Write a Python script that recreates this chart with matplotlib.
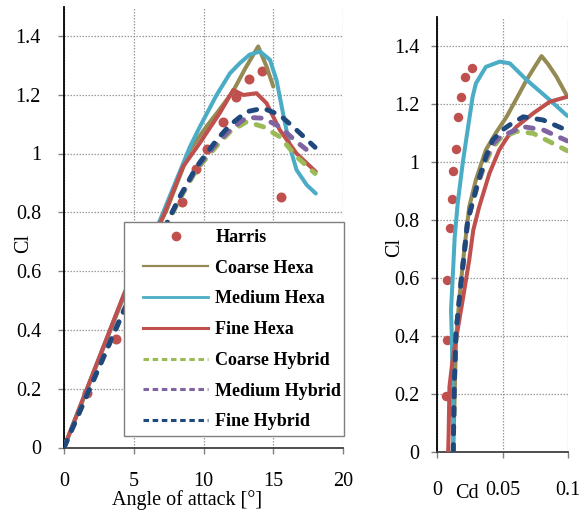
import matplotlib
matplotlib.use("Agg")
import matplotlib.pyplot as plt
from matplotlib.lines import Line2D
from matplotlib.patches import Rectangle
from matplotlib.ticker import FuncFormatter

plt.rcParams['font.family'] = ['Liberation Serif', 'DejaVu Serif']

# ---------------- data: Cl vs angle of attack ----------------
harris_alpha = [1.67, 3.7, 8.45, 9.45, 10.25, 11.4, 12.3, 13.25, 14.2, 15.55]
harris_cl = [0.184, 0.368, 0.835, 0.947, 1.015, 1.108, 1.193, 1.254, 1.281, 0.852]

coarse_hexa_alpha = [0, 4.3, 7.35, 9.03, 10.2, 11.0, 12.1, 13.0, 13.92, 14.52, 15.0]
coarse_hexa_cl = [0, 0.515, 0.807, 1.012, 1.091, 1.14, 1.21, 1.29, 1.364, 1.296, 1.228]

medium_hexa_alpha = [0, 4.3, 6.88, 9.03, 9.74, 10.94, 11.9, 12.6, 13.3, 14.04, 14.76,
                     15.23, 15.7, 16.19, 16.67, 17.4, 18.05]
medium_hexa_cl = [0, 0.52, 0.773, 1.023, 1.091, 1.199, 1.273, 1.307, 1.336, 1.347, 1.319,
                  1.25, 1.137, 1.023, 0.944, 0.893, 0.864]

fine_hexa_alpha = [0, 4.37, 7.1, 8.53, 9.74, 11.17, 12.13, 12.85, 13.8, 14.52, 15.47, 16.67, 18.05]
fine_hexa_cl = [0, 0.53, 0.785, 0.955, 1.036, 1.138, 1.216, 1.199, 1.205, 1.171, 1.08, 1.0, 0.938]

coarse_hybrid_alpha = [0, 4.3, 7.6, 8.3, 9.5, 10.94, 11.9, 13.09, 14.28, 15.47, 16.67, 18.0]
coarse_hybrid_cl = [0, 0.465, 0.78, 0.845, 0.945, 1.025, 1.074, 1.108, 1.091, 1.057, 0.989, 0.932]

medium_hybrid_alpha = [0, 4.3, 7.6, 8.3, 9.5, 10.94, 11.9, 13.09, 14.28, 15.47, 16.67, 17.57]
medium_hybrid_cl = [0, 0.467, 0.785, 0.85, 0.95, 1.035, 1.08, 1.123, 1.12, 1.091, 1.04, 1.006]

fine_hybrid_alpha = [0, 4.3, 7.6, 8.3, 9.5, 10.94, 11.9, 13.09, 14.28, 15.47, 16.67, 18.0]
fine_hybrid_cl = [0, 0.467, 0.785, 0.853, 0.955, 1.046, 1.097, 1.142, 1.154, 1.131, 1.08, 1.021]

# ---------------- data: Cl vs Cd (polar) ----------------
harris_cd = [0.0069, 0.0079, 0.0079, 0.0102, 0.0114, 0.0125, 0.0142, 0.0158, 0.0183, 0.0213, 0.0264]
harris_cl_p = [0.195, 0.387, 0.593, 0.773, 0.871, 0.969, 1.044, 1.153, 1.224, 1.293, 1.322]

coarse_hexa_cd = [0.0124, 0.0135, 0.0145, 0.0175, 0.0208, 0.0246, 0.0297, 0.0373, 0.0450,
                  0.0531, 0.0610, 0.0684, 0.0750, 0.0798, 0.0850, 0.0912, 0.0995]
coarse_hexa_clp = [0.0, 0.2, 0.387, 0.55, 0.696, 0.845, 0.938, 1.041, 1.10,
                   1.155, 1.22, 1.282, 1.33, 1.364, 1.335, 1.293, 1.225]

medium_hexa_cd = [0.0124, 0.0120, 0.0114, 0.0107, 0.0122, 0.0135, 0.0158, 0.0196, 0.0234, 0.0272,
                  0.0297, 0.0373, 0.0480, 0.0556, 0.0684, 0.0861, 0.0995]
medium_hexa_clp = [0.0, 0.18, 0.387, 0.49, 0.62, 0.74, 0.857, 0.995, 1.11, 1.224,
                   1.27, 1.327, 1.345, 1.339, 1.282, 1.213, 1.158]

fine_hexa_cd = [0.0085, 0.0089, 0.0095, 0.0119, 0.0157, 0.0196, 0.0246, 0.0277, 0.0322, 0.040,
                0.0475, 0.0539, 0.0607, 0.0734, 0.0861, 0.0995]
fine_hexa_clp = [0.0, 0.065, 0.226, 0.318, 0.42, 0.524, 0.662, 0.765, 0.845, 0.96,
                 1.041, 1.086, 1.121, 1.167, 1.207, 1.224]

coarse_hybrid_cd = [0.0124, 0.0132, 0.0145, 0.0183, 0.0235, 0.031, 0.0373, 0.0420, 0.0480,
                    0.0607, 0.0734, 0.0861, 0.0995]
coarse_hybrid_clp = [0.0, 0.237, 0.41, 0.582, 0.8, 0.92, 1.0, 1.045, 1.08,
                     1.105, 1.098, 1.069, 1.038]

medium_hybrid_cd = [0.0124, 0.0132, 0.0145, 0.0183, 0.0235, 0.031, 0.0373, 0.0420, 0.0480,
                    0.0658, 0.081, 0.0995]
medium_hybrid_clp = [0.0, 0.237, 0.41, 0.582, 0.8, 0.922, 1.01, 1.058, 1.086,
                     1.121, 1.11, 1.072]

fine_hybrid_cd = [0.0124, 0.0132, 0.0145, 0.0183, 0.0235, 0.031, 0.0373, 0.0425, 0.050,
                  0.0564, 0.0658, 0.081, 0.0995]
fine_hybrid_clp = [0.0, 0.237, 0.41, 0.582, 0.8, 0.926, 1.018, 1.075, 1.11,
                   1.13, 1.155, 1.144, 1.108]

labels = ['Harris', 'Coarse Hexa', 'Medium Hexa', 'Fine Hexa',
          'Coarse Hybrid', 'Medium Hybrid', 'Fine Hybrid']

C_OLIVE = '#948A54'
C_CYAN = '#4BACC6'
C_RED = '#C0504D'
C_GREEN = '#9BBB59'
C_PURPLE = '#8064A2'
C_BLUE = '#1F497D'

SOLID_LW = 2.9
DASH_LW = 3.5
DASH = (1.6, 2.2)

fig = plt.figure(figsize=(5.79, 5.12), dpi=100)
W, H = 579, 512


def px_axes(l, t, r, b):
    return fig.add_axes([l / W, 1 - b / H, (r - l) / W, (b - t) / H])


ax1 = px_axes(64, 6.5, 343, 447.5)
ax2 = px_axes(437, 16.6, 568, 452.3)


def style_axis(ax, xpad, ypad):
    for s in ['top', 'right']:
        ax.spines[s].set_visible(False)
    ax.spines['left'].set_color('black')
    ax.spines['left'].set_linewidth(1.3)
    ax.spines['bottom'].set_color('#404040')
    ax.spines['bottom'].set_linewidth(1.3)
    ax.grid(True, color='#9a9a9a', linestyle=(0, (1.2, 1.2)), linewidth=0.9)
    ax.set_axisbelow(True)
    ax.tick_params(axis='x', direction='out', length=4.5, width=1.0, color='#808080',
                   labelsize=14.5, pad=xpad)
    ax.tick_params(axis='y', direction='out', length=4.5, width=1.0, color='#808080',
                   labelsize=14.5, pad=ypad)
    ax.yaxis.set_major_formatter(FuncFormatter(lambda v, p: f"{v:g}"))
    ax.xaxis.set_major_formatter(FuncFormatter(lambda v, p: f"{v:g}"))


def draw(ax, h, series):
    ax.plot(h[0], h[1], 'o', color=C_RED, ms=h[2], mec='none', zorder=2)
    for (x, y, c, dashed) in series:
        if dashed:
            ax.plot(x, y, color=c, lw=DASH_LW, linestyle=(0, DASH),
                    dash_capstyle='round', solid_capstyle='round', zorder=3)
        else:
            ax.plot(x, y, color=c, lw=SOLID_LW, solid_capstyle='round',
                    solid_joinstyle='round', zorder=3)


draw(ax1, (harris_alpha, harris_cl, 7.2), [
    (coarse_hexa_alpha, coarse_hexa_cl, C_OLIVE, False),
    (medium_hexa_alpha, medium_hexa_cl, C_CYAN, False),
    (fine_hexa_alpha, fine_hexa_cl, C_RED, False),
    (coarse_hybrid_alpha, coarse_hybrid_cl, C_GREEN, True),
    (medium_hybrid_alpha, medium_hybrid_cl, C_PURPLE, True),
    (fine_hybrid_alpha, fine_hybrid_cl, C_BLUE, True),
])
draw(ax2, (harris_cd, harris_cl_p, 6.8), [
    (coarse_hexa_cd, coarse_hexa_clp, C_OLIVE, False),
    (medium_hexa_cd, medium_hexa_clp, C_CYAN, False),
    (fine_hexa_cd, fine_hexa_clp, C_RED, False),
    (coarse_hybrid_cd, coarse_hybrid_clp, C_GREEN, True),
    (medium_hybrid_cd, medium_hybrid_clp, C_PURPLE, True),
    (fine_hybrid_cd, fine_hybrid_clp, C_BLUE, True),
])

ax1.set_xlim(0, 20)
ax1.set_ylim(0, 1.5)
ax1.set_xticks([0, 5, 10, 15, 20])
ax1.set_yticks([0, 0.2, 0.4, 0.6, 0.8, 1.0, 1.2, 1.4])
style_axis(ax1, 13, 12)

ax2.set_xlim(0, 0.1)
ax2.set_ylim(0, 1.5)
ax2.set_xticks([0, 0.05, 0.1])
ax2.set_yticks([0, 0.2, 0.4, 0.6, 0.8, 1.0, 1.2, 1.4])
style_axis(ax2, 16.5, 8)
for lab in ax2.get_xticklabels():
    lab.set_clip_on(False)

# axis labels
fig.text(187 / W, 1 - 500 / H, 'Angle of attack [°]', fontsize=14.5,
         ha='center', va='center')
fig.text(24 / W, 1 - 243 / H, 'Cl', fontsize=14.5, rotation=90, ha='center', va='center')
fig.text(395 / W, 1 - 247 / H, 'Cl', fontsize=14.5, rotation=90, ha='center', va='center')
fig.text(467 / W, 1 - 494 / H, 'Cd', fontsize=14.5, ha='center', va='center')

# legend box covering lines
box = Rectangle(((124 - 64) / 279, (447.5 - 436) / 441), (344 - 124) / 279, (436 - 221.5) / 441,
                transform=ax1.transAxes, facecolor='white', edgecolor='#7f7f7f',
                linewidth=1.0, zorder=5, clip_on=False)
ax1.add_patch(box)

handles = [
    Line2D([], [], color=C_RED, marker='o', ms=7.0, mec='none', linestyle='none'),
    Line2D([], [], color=C_OLIVE, lw=1.6),
    Line2D([], [], color=C_CYAN, lw=2.0),
    Line2D([], [], color=C_RED, lw=2.2),
    Line2D([], [], color=C_GREEN, lw=2.2, linestyle=(0, (1.8, 1.2))),
    Line2D([], [], color=C_PURPLE, lw=2.2, linestyle=(0, (1.8, 1.2))),
    Line2D([], [], color=C_BLUE, lw=2.2, linestyle=(0, (1.8, 1.2))),
]
leg = ax1.legend(handles, labels, loc='upper left',
                 bbox_to_anchor=((143 - 64) / 279, (447.5 - 229) / 441),
                 frameon=False, borderpad=0, borderaxespad=0,
                 handlelength=3.6, handletextpad=0.4, labelspacing=0.76,
                 prop={'family': ['Liberation Serif'], 'weight': 'bold', 'size': 13})
leg.set_zorder(6)

fig.savefig('out.png', dpi=100)
